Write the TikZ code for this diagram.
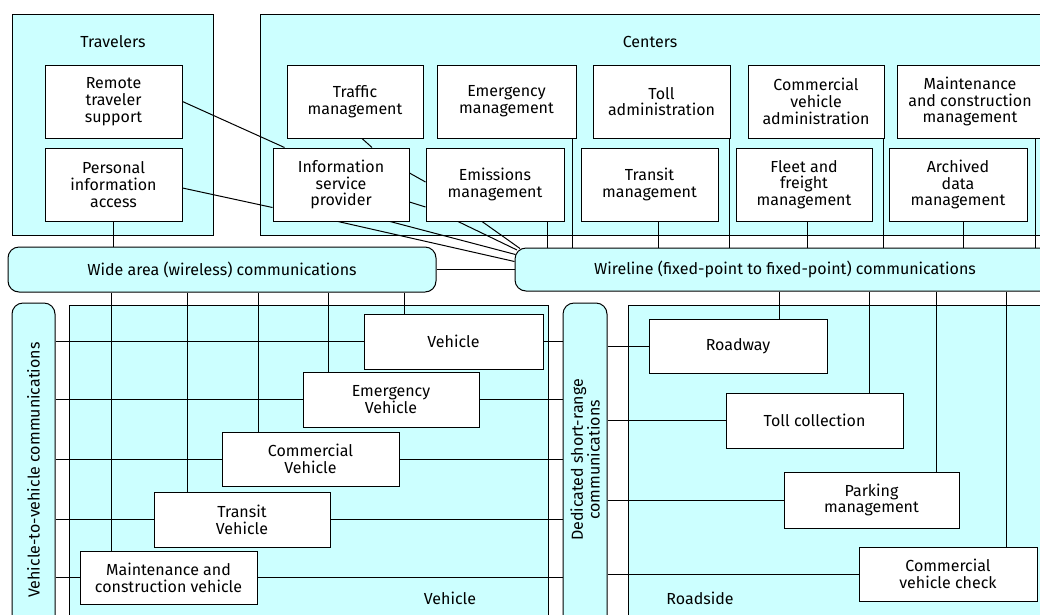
\documentclass[tikz,border=0pt]{standalone}
\usepackage{fontspec}
\setmainfont{Fira Sans}
\usetikzlibrary{calc}
\definecolor{cy}{RGB}{204,255,255}
\newcommand\myfs{\fontsize{16}{16.8}\selectfont}
\tikzset{
  grp/.style={draw, fill=cy, inner sep=0pt},
  bar/.style={draw, fill=cy, rounded corners=11pt, inner sep=0pt},
  box/.style={draw, fill=white, inner sep=0pt, align=center, font=\myfs},
  lbl/.style={font=\myfs, inner sep=0pt, align=center},
  conn/.style={line width=1pt}
}
\begin{document}
\begin{tikzpicture}[x=1pt,y=-1pt,line width=1pt]
\useasboundingbox (0,0) rectangle (1040,614);
% groups
\node[grp, minimum width=201, minimum height=221] (trav) at (112.5,124.5) {};
\node[grp, minimum width=800, minimum height=221] (cent) at (660,124.5) {};
\node[grp, minimum width=479, minimum height=325] (vehg) at (308.5,467.5) {};
\node[grp, minimum width=432, minimum height=325] (roadg) at (844,467.5) {};
\node[lbl] (travl) at (113,42) {Travelers};
\node[lbl] (centl) at (650,42) {Centers};
\node[lbl] (vehl) at (450,598) {Vehicle};
\node[lbl] (roadl) at (700,598) {Roadside};
% bars
\node[bar, minimum width=428, minimum height=45] (wide) at (222,269.5) {};
\node[lbl] at (222,269.5) {Wide area (wireless) communications};
\node[bar, minimum width=540, minimum height=43] (wire) at (785,269.5) {};
\node[lbl] at (785,269.5) {Wireline (fixed-point to fixed-point) communications};
\node[bar, minimum width=43, minimum height=337] (v2v) at (33.5,471.5) {};
\node[lbl, rotate=90] at (33.5,470) {Vehicle-to-vehicle communications};
\node[bar, minimum width=44, minimum height=337] (dsrc) at (585,471.5) {};
\node[lbl, rotate=90] at (585,460) {Dedicated short-range\\communications};
% traveler boxes
\node[box, minimum width=137, minimum height=73] (rts) at (113.5,101.5) {Remote\\traveler\\support};
\node[box, minimum width=137, minimum height=73] (pia) at (113.5,184.5) {Personal\\information\\access};
% centers row 1
\node[box, minimum width=136, minimum height=73] (traffic) at (355,101.5) {Traffic\\management};
\node[box, minimum width=139, minimum height=73] (emerg) at (506.5,101.5) {Emergency\\management};
\node[box, minimum width=137, minimum height=73] (tolla) at (661.5,101.5) {Toll\\administration};
\node[box, minimum width=136, minimum height=73] (cva) at (816,101.5) {Commercial\\vehicle\\administration};
\node[box, minimum width=146, minimum height=73] (mcm) at (970,101.5) {Maintenance\\and construction\\management};
% centers row 2
\node[box, minimum width=136, minimum height=73] (isp) at (341,184.5) {Information\\service\\provider};
\node[box, minimum width=138, minimum height=73] (emis) at (495,184.5) {Emissions\\management};
\node[box, minimum width=137, minimum height=73] (transm) at (649.5,184.5) {Transit\\management};
\node[box, minimum width=136, minimum height=73] (fleet) at (804,184.5) {Fleet and\\freight\\management};
\node[box, minimum width=138, minimum height=73] (arch) at (958,184.5) {Archived\\data\\management};
% vehicles
\node[box, minimum width=179, minimum height=55] (veh) at (453.5,341.5) {Vehicle};
\node[box, minimum width=176, minimum height=55] (ev) at (391,399.5) {Emergency\\Vehicle};
\node[box, minimum width=177, minimum height=54] (cv) at (310.5,459) {Commercial\\Vehicle};
\node[box, minimum width=176, minimum height=55] (tv) at (242,519.5) {Transit\\Vehicle};
\node[box, minimum width=177, minimum height=53] (mcv) at (168.5,577.5) {Maintenance and\\construction vehicle};
% roadside
\node[box, minimum width=178, minimum height=54] (road) at (738,346) {Roadway};
\node[box, minimum width=177, minimum height=55] (tollc) at (814.5,420.5) {Toll collection};
\node[box, minimum width=175, minimum height=56] (park) at (871.5,500) {Parking\\management};
\node[box, minimum width=178, minimum height=54] (cvc) at (948,574) {Commercial\\vehicle check};
% ---- connectors
\draw[conn] (pia.south) -- (pia.south |- wide.north);
\draw[conn] (rts.east) -- ([xshift=12]isp.north west);
\draw[conn] ([yshift=-3.5]pia.east) -- ([yshift=14]isp.south west);
\draw[conn] ([xshift=7]traffic.south) -- ([xshift=31]isp.north);
\draw[conn] ([yshift=11.5]isp.east) -- ([yshift=2.5]emis.west);
\draw[conn] ([yshift=-17.5]isp.east) -- ([yshift=-22.5]emis.west);
\draw[conn] ([xshift=-3]isp.south) -- ([yshift=8]wire.west);
\draw[conn] ([xshift=49]isp.south) -- ([xshift=1,yshift=15]wire.west);
\draw[conn] ([xshift=-37]emis.south) -- ([xshift=2.5,yshift=-2.5]wire.north west);
\draw[conn] ([xshift=-13]emis.south) -- ([xshift=5.5,yshift=-1]wire.north west);
\draw[conn] (wide.east) -- (wire.west);
% centers down to wireline
\foreach \n/\dx in {emis/52, transm/8.5, fleet/3, arch/5}
  \draw[conn] ([xshift=\dx]\n.south) -- ([xshift=\dx]\n.south |- wire.north);
\foreach \n/\dx in {emerg/-4, tolla/-1, cva/-1, mcm/-8}
  \draw[conn] ([xshift=\dx]\n.south east) -- ([xshift=\dx]\n.south east |- wire.north);
% wide area down to vehicles
\foreach \n/\dx in {veh/41, ev/26, cv/37, tv/34, mcv/32}
  \draw[conn] ([xshift=\dx]\n.north west) -- ([xshift=\dx]\n.north west |- wide.south);
% vehicle horizontals
\foreach \n in {veh, ev, cv, tv, mcv}{
  \draw[conn] (v2v.east |- \n.west) -- (\n.west);
  \draw[conn] (\n.east) -- (dsrc.west |- \n.east);
}
% roadside
\foreach \n/\dx in {road/41, tollc/54.5, park/64.5, cvc/58}{
  \draw[conn] ([xshift=\dx]\n.north) -- ([xshift=\dx]\n.north |- wire.south);
  \draw[conn] (dsrc.east |- \n.west) -- (\n.west);
}
\end{tikzpicture}
\end{document}
